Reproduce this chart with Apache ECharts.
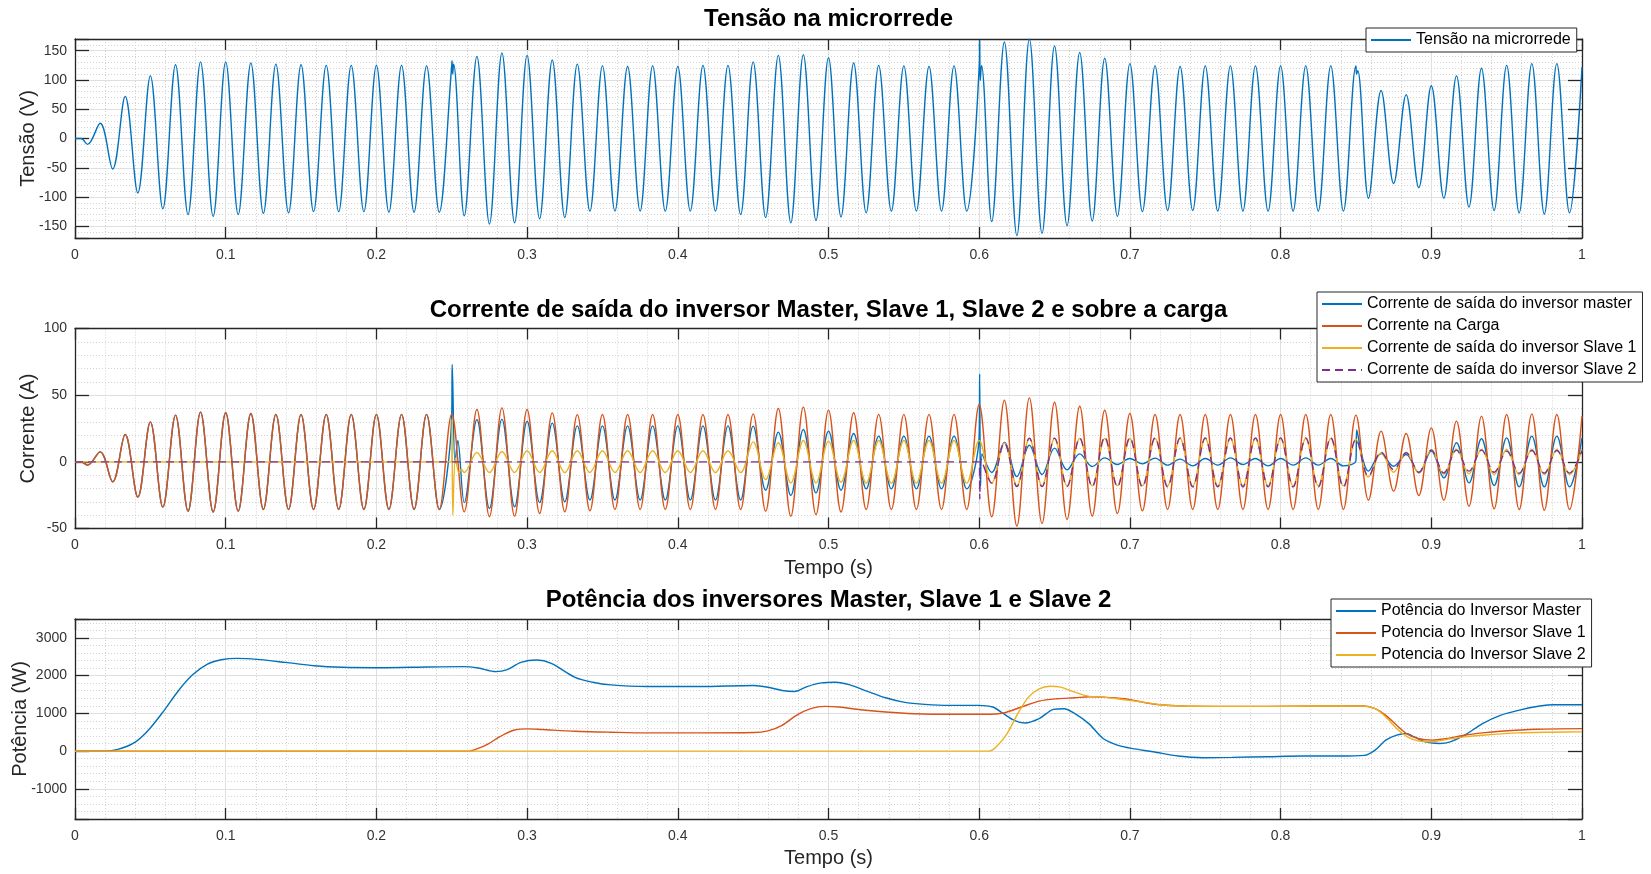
<!DOCTYPE html>
<html>
<head>
<meta charset="utf-8">
<script src="https://cdn.jsdelivr.net/npm/echarts@6/dist/echarts.min.js"></script>
<style>
html, body { margin: 0; padding: 0; background: #ffffff; }
#chart { width: 1651px; height: 874px; }
</style>
</head>
<body>
<div id="chart"></div>
<script>
// Instants (s) of the successive half-cycle extremes of the 60 Hz waveforms
const tHalf = [0, 0.0083, 0.0167, 0.025, 0.0333, 0.0417, 0.05, 0.0583, 0.0667, 0.075, 0.0833, 0.0917,
  0.1, 0.1083, 0.1167, 0.125, 0.1333, 0.1417, 0.15, 0.1583, 0.1667, 0.175, 0.1833, 0.1917,
  0.2, 0.2083, 0.2167, 0.225, 0.2333, 0.2417, 0.25, 0.2583, 0.2667, 0.275, 0.2833, 0.2917,
  0.3, 0.3083, 0.3167, 0.325, 0.3333, 0.3417, 0.35, 0.3583, 0.3667, 0.375, 0.3833, 0.3917,
  0.4, 0.4083, 0.4167, 0.425, 0.4333, 0.4417, 0.45, 0.4583, 0.4667, 0.475, 0.4833, 0.4917,
  0.5, 0.5083, 0.5167, 0.525, 0.5333, 0.5417, 0.55, 0.5583, 0.5667, 0.575, 0.5833, 0.5917,
  0.6, 0.6083, 0.6167, 0.625, 0.6333, 0.6417, 0.65, 0.6583, 0.6667, 0.675, 0.6833, 0.6917,
  0.7, 0.7083, 0.7167, 0.725, 0.7333, 0.7417, 0.75, 0.7583, 0.7667, 0.775, 0.7833, 0.7917,
  0.8, 0.8083, 0.8167, 0.825, 0.8333, 0.8417, 0.85, 0.8583, 0.8667, 0.875, 0.8833, 0.8917,
  0.9, 0.9083, 0.9167, 0.925, 0.9333, 0.9417, 0.95, 0.9583, 0.9667, 0.975, 0.9833, 0.9917,
  1];

// Microgrid voltage (V) at each half-cycle extreme
const tensao = [0, -10, 26, -52, 72, -93, 107, -120, 126, -130, 131, -133,
  131, -130, 129, -128, 127, -127, 126, -125, 125, -125, 125, -125,
  125, -126, 125, -126, 124, -126, 125, -132, 140, -146, 146, -144,
  142, -137, 134, -135, 127, -124, 124, -124, 123, -124, 124, -124,
  123, -124, 125, -124, 125, -130, 131, -135, 142, -144, 143, -140,
  138, -134, 129, -127, 125, -124, 124, -124, 123, -124, 124, -124,
  124, -142, 165, -166, 170, -162, 158, -149, 147, -141, 137, -133,
  128, -125, 124, -123, 123, -123, 124, -124, 124, -124, 124, -124,
  124, -124, 124, -124, 124, -124, 124, -102, 82, -77, 75, -84,
  90, -102, 107, -117, 120, -123, 125, -127, 128, -129, 128, -127,
  122];
// Switching transients on the voltage [t, V]
const tensaoTransientes = [[0.004, 0], [0.2502, 133], [0.2506, 110], [0.2512, 127],
  [0.6003, 168], [0.6007, 99], [0.6015, 125], [0.8504, 110], [0.8512, 116]];

// Master inverter output current (A)
const correnteMaster = [0, -2.5, 7.5, -15, 20.5, -26.5, 30, -34, 35, -37, 37.3, -37.6,
  36.8, -37, 36.3, -35.8, 35.6, -35.8, 35.6, -35.8, 35.6, -35.8, 35.6, -35.8,
  35.6, -35.8, 35.6, -35.8, 35.6, -35.8, 35, -30.6, 31.7, -35, 32, -33.7,
  30.4, -30.6, 29, -30, 27, -28.6, 27, -28.6, 27, -28.6, 27, -28.6,
  27, -28.6, 27, -28.6, 27, -28.6, 26.8, -21.3, 22.3, -25.3, 24.3, -23.3,
  23, -21.3, 21.3, -20.3, 19.3, -20.3, 19.3, -20.3, 19.3, -20.3, 19.3, -20.3,
  20, -8, 14.6, -11, 12.4, -9.5, 10.3, -6, 6, -3.5, 3, -2,
  2.5, -1.5, 2.8, -2.5, 2, -3, 2.5, -2.5, 3, -2, 2.5, -3,
  2.5, -2.5, 3, -2.5, 2.5, -3, 1, -7, 6.3, -3.3, 5.5, -8.3,
  8, -12, 14.3, -15.8, 17.3, -17.8, 18, -18.8, 19.3, -18.8, 19.3, -18.8,
  18];
const correnteMasterTransientes = [[0.004, 0], [0.2503, 73], [0.2522, -1], [0.254, 16],
  [0.6003, 66], [0.6009, -18], [0.6018, 6], [0.8505, 24]];

// Load current (A)
const correnteCarga = [0, -2.5, 7.5, -15, 20.5, -26.5, 30, -34, 35, -37, 37.3, -37.6,
  36.8, -37, 36.3, -35.8, 35.6, -35.8, 35.6, -35.8, 35.6, -35.8, 35.6, -35.8,
  35.6, -35.8, 35.6, -35.8, 35.6, -35.8, 36, -37.5, 39.2, -41.2, 40.5, -40.7,
  39.2, -38.7, 36.7, -37.4, 35.4, -36.7, 35.5, -35.8, 35.5, -35.8, 35.5, -35.8,
  35.5, -35.8, 35.5, -35.8, 35.5, -35.8, 36, -37, 40, -40.8, 41, -39.6,
  38.8, -37.6, 36.8, -35.8, 35.6, -35.8, 35.6, -35.8, 35.6, -35.8, 35.6, -35.8,
  43, -41.2, 46.2, -48.2, 48, -46.2, 44.7, -43.2, 41.7, -40.7, 38.7, -38.7,
  36.2, -36.7, 35.5, -35.7, 35.5, -35.7, 35.5, -35.7, 35.5, -35.7, 35.5, -35.7,
  35.5, -35.7, 35.5, -35.7, 35.5, -35.7, 35, -28.8, 23, -22, 21.3, -25.3,
  25.5, -28.8, 30.5, -33.3, 34.3, -35.3, 35.5, -35.8, 36, -36.3, 35.5, -35.8,
  34.3];
const correnteCargaTransientes = [[0.004, 0]];

// Slave 1 inverter output current (A)
const correnteSlave1 = [0, 0, 0, 0, 0, 0, 0, 0, 0, 0, 0, 0,
  0, 0, 0, 0, 0, 0, 0, 0, 0, 0, 0, 0,
  0, 0, 0, 0, 0, 0, 0, -8, 7, -8, 7.8, -8,
  8.3, -8, 8.3, -8, 8.3, -8, 8.3, -8, 8.3, -8, 8.3, -8,
  8.3, -8, 8.3, -8, 8.3, -8, 15, -13.3, 14.3, -15.8, 16, -15.8,
  15.5, -15.3, 16, -16, 16, -16, 16, -16, 16, -16, 16, -16,
  16, -16, 14, -18, 17.5, -18, 17.5, -18, 17.5, -18, 17.5, -18,
  17.5, -18, 17.5, -18, 17.5, -18, 17.5, -18, 17.5, -18, 17.5, -18,
  17.5, -18, 17.5, -18, 17.5, -18, 17, -11.5, 6.8, -7.8, 7.3, -8.5,
  9.3, -9.3, 9.5, -9, 9.3, -9.5, 9.3, -9.5, 9.3, -9.5, 9.3, -9.5,
  9];
const correnteSlave1Transientes = [[0.2502, 32], [0.2507, -40], [0.2525, 3], [0.2548, -8.5], [0.2563, -5.5]];

// Slave 2 inverter output current (A)
const correnteSlave2 = [0, 0, 0, 0, 0, 0, 0, 0, 0, 0, 0, 0,
  0, 0, 0, 0, 0, 0, 0, 0, 0, 0, 0, 0,
  0, 0, 0, 0, 0, 0, 0, 0, 0, 0, 0, 0,
  0, 0, 0, 0, 0, 0, 0, 0, 0, 0, 0, 0,
  0, 0, 0, 0, 0, 0, 0, 0, 0, 0, 0, 0,
  0, 0, 0, 0, 0, 0, 0, 0, 0, 0, 0, 0,
  0, -16, 14, -18.6, 17.8, -18.6, 17.8, -18.6, 17.8, -18.6, 18.5, -18.6,
  18, -18.8, 18, -18.8, 18, -18.8, 18, -18.8, 18, -18.8, 18, -18.8,
  18, -18.8, 18, -18.8, 18, -18.8, 16.8, -10.8, 7.3, -5.8, 6.8, -7.8,
  8.8, -8.3, 8.8, -7, 8.8, -7.8, 8, -8.5, 8.5, -8.5, 8.5, -8.5,
  8.5];
const correnteSlave2Transientes = [[0.6004, -28], [0.6012, 2]];

// Inverter active power (W), [t, P]
const potenciaMaster = [[0, 0], [0.019, 0], [0.0284, 44], [0.0402, 245], [0.0497, 600], [0.0592, 1080],
  [0.0686, 1600], [0.078, 2020], [0.0876, 2300], [0.097, 2420], [0.1077, 2456], [0.1207, 2430],
  [0.1396, 2350], [0.1586, 2263], [0.1775, 2220], [0.1988, 2210], [0.2225, 2220], [0.258, 2237],
  [0.2675, 2200], [0.2793, 2105], [0.2864, 2150], [0.2959, 2350], [0.3065, 2412], [0.316, 2325],
  [0.3318, 1956], [0.3436, 1825], [0.3555, 1754], [0.3792, 1710], [0.4147, 1710], [0.4502, 1737],
  [0.4597, 1693], [0.4692, 1605], [0.4775, 1580], [0.4858, 1710], [0.4953, 1807], [0.5047, 1825],
  [0.5142, 1754], [0.526, 1580], [0.5379, 1412], [0.5498, 1298], [0.564, 1237], [0.5806, 1210],
  [0.5995, 1210], [0.609, 1167], [0.6161, 990], [0.6232, 816], [0.6303, 745], [0.6398, 860],
  [0.6493, 1105], [0.6564, 1123], [0.6635, 990], [0.6727, 728], [0.6822, 333], [0.6917, 158],
  [0.7012, 70], [0.7154, -18], [0.7321, -132], [0.7487, -175], [0.7677, -167], [0.7914, -149],
  [0.8152, -132], [0.839, -132], [0.8556, -114], [0.8627, 26], [0.8698, 290], [0.877, 421],
  [0.8829, 465], [0.8888, 377], [0.896, 246], [0.9055, 202], [0.9126, 246], [0.9221, 421],
  [0.934, 728], [0.9458, 947], [0.9577, 1079], [0.972, 1193], [0.9815, 1228], [1, 1228]];
const potenciaSlave1 = [[0, 0], [0.2615, 0], [0.2675, 70], [0.2746, 200], [0.2817, 377], [0.2911, 553],
  [0.3006, 588], [0.31, 570], [0.3318, 526], [0.3555, 500], [0.3792, 482], [0.4147, 482],
  [0.4502, 491], [0.4597, 535], [0.4692, 684], [0.4787, 947], [0.4882, 1123], [0.4976, 1184],
  [0.5071, 1167], [0.5213, 1096], [0.5379, 1035], [0.5569, 991], [0.5806, 974], [0.6043, 974],
  [0.6161, 1009], [0.628, 1167], [0.6398, 1325], [0.6517, 1386], [0.6635, 1412], [0.6727, 1440],
  [0.6822, 1430], [0.6964, 1386], [0.7083, 1298], [0.7202, 1228], [0.7344, 1193], [0.7558, 1184],
  [0.7914, 1184], [0.8271, 1193], [0.8556, 1193], [0.8627, 1123], [0.8698, 947], [0.877, 684],
  [0.8841, 447], [0.8912, 333], [0.9007, 290], [0.9102, 333], [0.9221, 421], [0.934, 482],
  [0.9458, 526], [0.9696, 579], [1, 596]];
const potenciaSlave2 = [[0, 0], [0.6066, 0], [0.6114, 114], [0.6185, 465], [0.6256, 991], [0.6327, 1430],
  [0.6398, 1649], [0.6469, 1719], [0.654, 1693], [0.6635, 1561], [0.673, 1450], [0.6822, 1430],
  [0.6964, 1360], [0.7083, 1298], [0.7202, 1228], [0.7344, 1193], [0.7558, 1184], [0.7914, 1184],
  [0.8271, 1193], [0.8556, 1190], [0.8627, 1123], [0.8698, 904], [0.877, 596], [0.8841, 377],
  [0.8912, 272], [0.9007, 246], [0.9102, 307], [0.9221, 377], [0.934, 421], [0.9577, 482],
  [0.98, 500], [1, 509]];

const FONT = '"Liberation Sans", Arial, Helvetica, sans-serif';
const INK = '#262626';
const C_BLUE = '#0072BD', C_ORANGE = '#D95319', C_YELLOW = '#EDB120', C_PURPLE = '#7E2F8E';

// pair each half-cycle value with its instant and merge in the transient samples
function waveform(values, transients) {
  const pts = values.map((v, i) => [tHalf[i], v]).concat(transients);
  pts.sort((a, b) => a[0] - b[0]);
  return pts;
}

const frameLine = { show: true, onZero: false, lineStyle: { color: INK, width: 1.3 } };
const majorGrid = { show: true, lineStyle: { color: '#dfdfdf', width: 1, type: 'solid' } };
const minorGrid = { show: true, lineStyle: { color: '#d2d2d2', width: 1, type: [1, 2] } };
const tickFont = { fontFamily: FONT, fontSize: 14, color: '#333333' };
const nameFont = { fontFamily: FONT, fontSize: 20, color: INK };

function xBottom(g, name) {
  return {
    type: 'value', gridIndex: g, min: 0, max: 1, interval: 0.1, position: 'bottom',
    name: name || '', nameLocation: 'middle', nameGap: g === 2 ? 29 : 30, nameTextStyle: nameFont,
    nameMoveOverlap: false,
    axisLine: frameLine,
    axisTick: { show: true, inside: true, length: 11, lineStyle: { color: INK, width: 1.3 } },
    axisLabel: Object.assign({ show: true, margin: 10 }, tickFont),
    splitLine: majorGrid,
    minorTick: { show: false, splitNumber: 5 },
    minorSplitLine: minorGrid
  };
}
function xTop(g) {
  return {
    type: 'value', gridIndex: g, min: 0, max: 1, interval: 0.1, position: 'top',
    axisLine: frameLine,
    axisTick: { show: true, inside: true, length: 11, lineStyle: { color: INK, width: 1.3 } },
    axisLabel: { show: false }, splitLine: { show: false }
  };
}
function yMinor(g, min, max, interval) {
  return {
    type: 'value', gridIndex: g, min: min, max: max, interval: interval, position: 'left',
    axisLine: { show: false }, axisTick: { show: false }, axisLabel: { show: false },
    splitLine: minorGrid
  };
}
function yMain(g, min, max, step, name, gap, withMinor) {
  const ax = {
    type: 'value', gridIndex: g, min: min, max: max, position: 'left',
    name: name, nameLocation: 'middle', nameGap: gap, nameRotate: 90, nameTextStyle: nameFont,
    nameMoveOverlap: false,
    axisLine: frameLine,
    axisTick: { show: true, inside: true, length: 14, lineStyle: { color: INK, width: 1.3 } },
    axisLabel: Object.assign({ show: true, margin: 8,
      formatter: v => (Math.abs(v % step) < 1e-9 ? String(v) : '') }, tickFont),
    splitLine: majorGrid
  };
  if (withMinor) {
    ax.interval = step;
    ax.minorTick = { show: false, splitNumber: 5 };
    ax.minorSplitLine = minorGrid;
  } else {
    ax.splitNumber = 5;
  }
  return ax;
}
function yRight(g, min, max, step, fixed) {
  const ax = {
    type: 'value', gridIndex: g, min: min, max: max, position: 'right',
    axisLine: frameLine,
    axisTick: { show: true, inside: true, length: 14, lineStyle: { color: INK, width: 1.3 } },
    axisLabel: { show: false }, splitLine: { show: false }
  };
  if (fixed) ax.interval = step; else ax.splitNumber = 5;
  return ax;
}

function lineSeries(name, xi, yi, data, color, dashed, smooth) {
  return {
    type: 'line', name: name, xAxisIndex: xi, yAxisIndex: yi, data: data,
    smooth: smooth, symbol: 'none', showSymbol: false,
    lineStyle: { color: color, width: 1.4, type: dashed ? [8, 5] : 'solid' },
    itemStyle: { color: color },
    emphasis: { disabled: true }
  };
}

// legend keys show only the line sample (no marker)
const legendBase = {
  orient: 'vertical', itemWidth: 40, itemHeight: 14, itemGap: 6,
  padding: [4, 6, 4, 4], backgroundColor: '#ffffff', borderColor: INK, borderWidth: 1,
  borderRadius: 0, selectedMode: false,
  itemStyle: { opacity: 0, borderWidth: 0 },
  textStyle: { fontFamily: FONT, fontSize: 16, color: '#000000' }
};

const NOMES_I = ['Corrente de saída do inversor master', 'Corrente na Carga',
  'Corrente de saída do inversor Slave 1', 'Corrente de saída do inversor Slave 2'];
const NOMES_P = ['Potência do Inversor Master', 'Potencia do Inversor Slave 1', 'Potencia do Inversor Slave 2'];

const titleStyle = { fontFamily: FONT, fontSize: 24, fontWeight: 'bold', color: '#000000' };

const option = {
  animation: false,
  backgroundColor: '#ffffff',
  title: [
    { text: 'Tensão na microrrede', left: 828.5, top: 7, textAlign: 'center', padding: 0, textStyle: titleStyle },
    { text: 'Corrente de saída do inversor Master, Slave 1, Slave 2 e sobre a carga', left: 828.5, top: 298,
      textAlign: 'center', padding: 0, textStyle: titleStyle },
    { text: 'Potência dos inversores Master, Slave 1 e Slave 2', left: 828.5, top: 588,
      textAlign: 'center', padding: 0, textStyle: titleStyle }
  ],
  grid: [
    { left: 75, top: 39, width: 1507, height: 199, outerBoundsMode: 'none' },
    { left: 75, top: 328.5, width: 1507, height: 200, outerBoundsMode: 'none' },
    { left: 75, top: 619, width: 1507, height: 200, outerBoundsMode: 'none' }
  ],
  legend: [
    Object.assign({}, legendBase, { data: ['Tensão na microrrede'], left: 1366, top: 28 }),
    Object.assign({}, legendBase, { data: NOMES_I, left: 1317, top: 292 }),
    Object.assign({}, legendBase, { data: NOMES_P, left: 1331, top: 599 })
  ],
  xAxis: [xBottom(0), xTop(0), xBottom(1, 'Tempo (s)'), xTop(1), xBottom(2, 'Tempo (s)'), xTop(2)],
  yAxis: [
    yMinor(0, -170, 170, 10),                                   // 0
    yMain(0, -170, 170, 50, 'Tensão (V)', 37, false),           // 1
    yRight(0, -170, 170, 50, false),                            // 2
    yMain(1, -50, 100, 50, 'Corrente (A)', 37, true),           // 3
    yRight(1, -50, 100, 50, true),                              // 4
    yMinor(2, -1800, 3500, 200),                                // 5
    yMain(2, -1800, 3500, 1000, 'Potência (W)', 45, false),     // 6
    yRight(2, -1800, 3500, 1000, false)                         // 7
  ],
  series: [
    lineSeries('Tensão na microrrede', 0, 1, waveform(tensao, tensaoTransientes), C_BLUE, false, 0.36),

    lineSeries(NOMES_I[0], 2, 3, waveform(correnteMaster, correnteMasterTransientes), C_BLUE, false, 0.36),
    lineSeries(NOMES_I[1], 2, 3, waveform(correnteCarga, correnteCargaTransientes), C_ORANGE, false, 0.36),
    lineSeries(NOMES_I[2], 2, 3, waveform(correnteSlave1, correnteSlave1Transientes), C_YELLOW, false, 0.36),
    lineSeries(NOMES_I[3], 2, 3, waveform(correnteSlave2, correnteSlave2Transientes), C_PURPLE, true, 0.36),

    lineSeries(NOMES_P[0], 4, 6, potenciaMaster, C_BLUE, false, 0.3),
    lineSeries(NOMES_P[1], 4, 6, potenciaSlave1, C_ORANGE, false, 0.3),
    lineSeries(NOMES_P[2], 4, 6, potenciaSlave2, C_YELLOW, false, 0.3)
  ]
};

const chart = echarts.init(document.getElementById('chart'), null, { renderer: 'canvas' });
chart.setOption(option);
</script>
</body>
</html>
